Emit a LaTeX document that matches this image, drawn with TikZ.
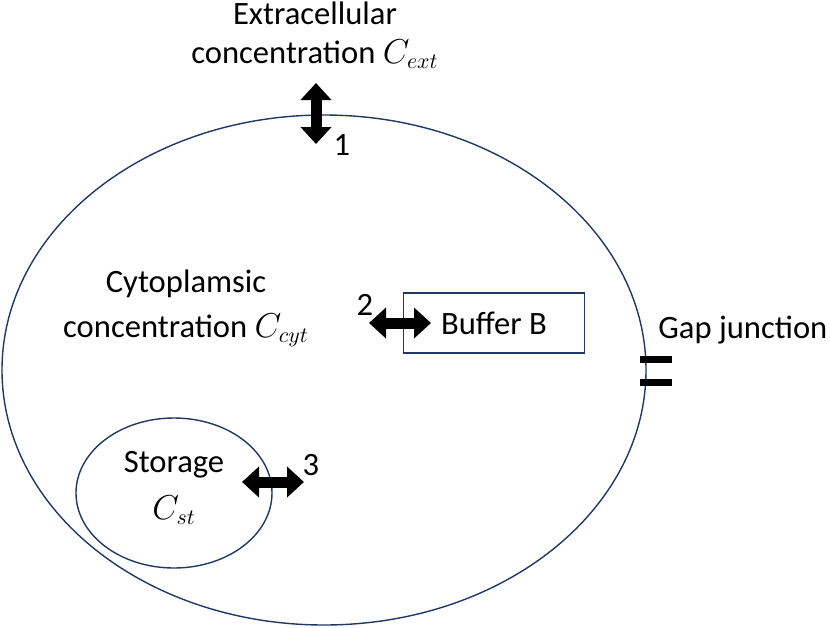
\documentclass[tikz,border=0pt]{standalone}
\usepackage{fontspec}
\setmainfont{Carlito}
\usetikzlibrary{arrows.meta}
\definecolor{cellblue}{HTML}{203864}
\tikzset{
  membrane/.style={draw=cellblue, line width=0.7pt},
  flux/.style={line width=5.5pt, {Triangle[width=15pt,length=8.5pt]}-{Triangle[width=15pt,length=8.5pt]}},
  lbl/.style={font=\fontsize{16.3}{19.5}\selectfont, align=center, inner sep=0pt},
  junction/.style={line width=3.5pt},
}

\begin{document}
\begin{tikzpicture}[x=0.5pt, y=-0.5pt]
    \useasboundingbox (0,0) rectangle (830,627);
    % cell and storage compartment
    \draw[membrane] (324,370) ellipse [x radius=322, y radius=255];
    \draw[membrane] (174,493) ellipse [x radius=98, y radius=75];
    \node[membrane, lbl, minimum width=90.5pt, minimum height=30pt] (buffer) at (494,323) {Buffer B};

    % labels
    \node[lbl] (ext) at (315,35) {Extracellular\\concentration $C_{ext}$};
    \node[lbl] (cyt) at (186,308) {Cytoplamsic\\[3pt]concentration $C_{cyt}$};
    \node[lbl] (storage) at (174,488) {Storage\\[4pt]$C_{st}$};
    \node[lbl, anchor=west] (gap) at (658,330) {Gap junction};

    % fluxes
    \coordinate (ext in) at (316,83);
    \coordinate (ext out) at (316,144);
    \draw[flux] (ext in) -- (ext out);
    \node[lbl] (n1) at (342,145) {1};

    \coordinate (buf in) at (369,323);
    \coordinate (buf out) at (431,323);
    \draw[flux] (buf in) -- (buf out);
    \node[lbl] (n2) at (365,305) {2};

    \coordinate (st in) at (242,482);
    \coordinate (st out) at (304,482);
    \draw[flux] (st in) -- (st out);
    \node[lbl] (n3) at (311,465) {3};

    % gap junction
    \draw[junction] (640,359) -- (672,359);
    \draw[junction] (640,382) -- (672,382);
\end{tikzpicture}
\end{document}
